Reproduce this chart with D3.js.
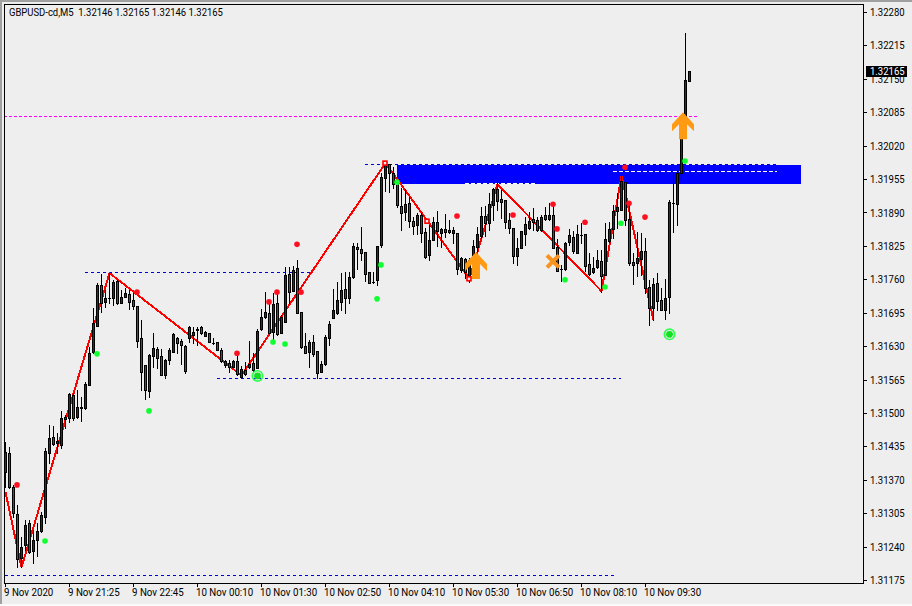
<!DOCTYPE html>
<html><head><meta charset="utf-8">
<script src="https://cdn.jsdelivr.net/npm/d3@7/dist/d3.min.js"></script>
<style>html,body{margin:0;padding:0;background:#eeeeee;overflow:hidden}svg{display:block}text{font-family:Roboto,"Noto Sans",sans-serif;font-size:11px;fill:#000;white-space:pre}</style>
</head><body><svg id="c" width="912" height="606"></svg>
<script>
const title = "GBPUSD-cd,M5  1.32146 1.32165 1.32146 1.32165";
const priceTicks = [1.32280,1.32215,1.32150,1.32085,1.32020,1.31955,1.31890,1.31825,1.31760,1.31695,1.31630,1.31565,1.31500,1.31435,1.31370,1.31305,1.31240,1.31175];
const timeLabels = ["9 Nov 2020","9 Nov 21:25","9 Nov 22:45","10 Nov 00:10","10 Nov 01:30","10 Nov 02:50","10 Nov 04:10","10 Nov 05:30","10 Nov 06:50","10 Nov 08:10","10 Nov 09:30"];
const lastPrice = 1.32165;
// OHLC in points (1e-5)
const open = [131385,131422,131356,131303,131218,131243,131286,131231,131253,131270,131297,131422,131453,131441,131437,131492,131490,131535,131492,131510,131510,131554,131618,131669,131749,131716,131724,131724,131757,131714,131726,131731,131720,131708,131646,131593,131543,131611,131624,131611,131573,131603,131618,131646,131640,131630,131646,131651,131661,131667,131649,131655,131636,131638,131622,131593,131597,131589,131601,131570,131583,131589,131597,131587,131663,131687,131694,131657,131714,131655,131677,131770,131737,131782,131696,131630,131618,131638,131620,131579,131595,131646,131685,131694,131716,131741,131724,131765,131823,131819,131813,131774,131755,131759,131827,131957,131984,131967,131947,131902,131891,131908,131873,131866,131885,131852,131807,131836,131871,131850,131858,131856,131850,131850,131778,131799,131761,131807,131823,131844,131883,131869,131904,131936,131916,131914,131875,131860,131805,131821,131848,131860,131877,131875,131856,131885,131877,131885,131823,131780,131780,131832,131842,131811,131846,131848,131790,131774,131784,131795,131768,131834,131858,131893,131895,131949,131877,131793,131791,131799,131815,131745,131704,131753,131720,131700,131726,131908,131906,131967,132044,132146];
const high = [131443,131433,131360,131321,131259,131292,131292,131272,131286,131307,131432,131477,131475,131461,131504,131496,131539,131539,131545,131531,131560,131628,131704,131753,131770,131739,131772,131759,131759,131739,131743,131739,131733,131708,131681,131593,131615,131655,131628,131624,131605,131626,131655,131648,131644,131632,131669,131667,131667,131669,131659,131655,131646,131638,131626,131603,131603,131603,131618,131591,131599,131640,131616,131663,131702,131735,131718,131733,131737,131690,131784,131784,131786,131797,131696,131655,131642,131651,131620,131601,131651,131679,131741,131755,131772,131774,131774,131830,131830,131862,131813,131774,131774,131825,131967,131982,131984,131978,131947,131938,131936,131920,131881,131889,131889,131860,131866,131881,131893,131860,131887,131875,131862,131850,131803,131801,131801,131836,131862,131900,131902,131928,131938,131947,131934,131914,131889,131860,131840,131854,131881,131891,131899,131881,131885,131900,131908,131904,131838,131788,131832,131858,131854,131866,131869,131848,131811,131803,131817,131817,131869,131871,131904,131928,131961,131949,131908,131811,131852,131850,131840,131759,131763,131772,131743,131761,131914,131969,131973,132050,132239,132165];
const low = [131356,131354,131297,131200,131200,131233,131227,131208,131222,131268,131286,131402,131437,131422,131432,131471,131482,131486,131490,131484,131508,131554,131616,131669,131696,131706,131714,131710,131712,131714,131726,131702,131702,131628,131545,131527,131531,131589,131587,131573,131568,131595,131618,131616,131595,131577,131638,131636,131632,131653,131649,131638,131634,131622,131599,131589,131579,131589,131573,131570,131573,131587,131581,131587,131661,131685,131655,131642,131651,131655,131677,131714,131737,131694,131626,131616,131589,131611,131568,131579,131593,131632,131685,131692,131700,131694,131714,131763,131780,131797,131757,131753,131753,131749,131823,131932,131930,131938,131900,131856,131875,131862,131848,131848,131832,131801,131797,131836,131825,131823,131842,131850,131830,131770,131774,131763,131755,131788,131815,131840,131844,131856,131875,131895,131879,131860,131850,131791,131788,131821,131827,131858,131856,131854,131854,131875,131875,131821,131776,131757,131778,131827,131811,131811,131830,131776,131768,131772,131782,131735,131768,131832,131840,131860,131895,131866,131788,131751,131766,131768,131733,131671,131681,131700,131700,131683,131694,131852,131866,131955,132040,132146];
const close = [131424,131356,131305,131215,131239,131282,131229,131253,131270,131301,131426,131451,131439,131445,131490,131488,131537,131490,131512,131512,131556,131616,131675,131749,131714,131724,131724,131755,131714,131726,131733,131716,131708,131640,131579,131545,131613,131626,131607,131573,131603,131622,131653,131636,131632,131581,131667,131657,131663,131655,131657,131638,131636,131622,131601,131601,131589,131601,131575,131585,131575,131595,131583,131659,131687,131696,131655,131712,131653,131687,131768,131735,131778,131694,131628,131616,131638,131615,131577,131595,131648,131673,131700,131720,131739,131724,131765,131825,131819,131811,131770,131753,131755,131825,131959,131982,131967,131945,131904,131889,131906,131873,131864,131885,131850,131803,131836,131871,131854,131858,131852,131852,131856,131780,131801,131774,131797,131825,131848,131883,131869,131906,131936,131912,131910,131871,131860,131805,131821,131854,131867,131873,131871,131856,131881,131877,131885,131821,131776,131780,131830,131846,131815,131848,131846,131786,131770,131782,131797,131766,131838,131858,131893,131900,131951,131875,131791,131788,131801,131815,131743,131704,131751,131718,131700,131724,131910,131908,131967,132044,132148,132165];
const zigBars = [0,4,26,59,95,116,123,149,154,162];
const zigPrices = [131346,131200,131772,131573,131986,131761,131945,131737,131961,131681];
const redBars = [3,33,58,66,68,73,74,113,127,137,138,145,155,156,160];
const redPrices = [131360,131735,131616,131716,131735,131828,131735,131883,131885,131906,131858,131871,131978,131908,131881];
const greenBars = [10,23,36,67,70,93,94,98,140,150,154,170];
const greenPrices = [131251,131615,131504,131638,131634,131722,131788,131949,131759,131745,131869,131990];
const ringBars = [63,166];
const ringPrices = [131572,131653];
const squareBars = [95,105.5,116];
const squarePrices = [131986,131873,131761];
const arrowBars = [117.75,169.5];
const arrowPrices = [131813,132085];
const crossBars = [137];
const crossPrices = [131795];
const levelStart = [20,53,0,90];
const levelEnd = [77,154,152.25,193];
const levelPrice = [131774,131568,131185,131984];
const whiteStart = [152,115];
const whiteEnd = [193,133];
const whitePrice = [131971,131948];
const magentaLevel = {start:-0.25,end:173,price:132077};
const zoneBars = [98,199];
const zonePrices = [131982,131945];

const pt = 1e-5;
const svg = d3.select("#c");
const x = d3.scaleLinear().domain([0,171]).range([5,689]);
const y = d3.scaleLinear().domain([1.31175,1.32280]).range([580,12]);
const yp = p => Math.round(y(p*pt));
const bars = open.map((o,i)=>({i,o,h:high[i],l:low[i],c:close[i]}));

// frame & window edges
svg.append("rect").attr("width",912).attr("height",2).attr("fill","#a0a0a0");
svg.append("rect").attr("width",2).attr("height",606).attr("fill","#a0a0a0");
svg.append("rect").attr("y",604).attr("width",912).attr("height",2).attr("fill","#fafafa");
svg.append("rect").attr("x",2).attr("y",2).attr("width",910).attr("height",602).attr("fill","#eeeeee");

const plot = svg.append("g");
// zone
plot.append("rect").attr("x",x(zoneBars[0])).attr("width",x(zoneBars[1])-x(zoneBars[0]))
  .attr("y",yp(zonePrices[0])).attr("height",yp(zonePrices[1])-yp(zonePrices[0])).attr("fill","#0000ff");
// dashed levels
const hline=(a,b,p,col,dash)=>plot.append("line").attr("x1",x(a)).attr("x2",x(b)).attr("y1",yp(p)+.5).attr("y2",yp(p)+.5)
  .attr("stroke",col).attr("stroke-width",1).attr("stroke-dasharray",dash).attr("shape-rendering","crispEdges");
levelPrice.forEach((p,k)=>hline(levelStart[k],levelEnd[k],p,"#0000d8","3 3"));
whitePrice.forEach((p,k)=>hline(whiteStart[k],whiteEnd[k],p,"#ffffff","4 2"));
hline(magentaLevel.start,magentaLevel.end,magentaLevel.price,"#ff00ff","3 2");
// zigzag
plot.append("path").attr("d",d3.line().x((d,k)=>x(zigBars[k])+.5).y(d=>y(d*pt))(zigPrices))
  .attr("fill","none").attr("stroke","#ff0000").attr("stroke-width",2).attr("shape-rendering","crispEdges");
// candles
const cg = plot.append("g").attr("shape-rendering","crispEdges");
cg.selectAll(".w").data(bars).join("rect").attr("x",d=>x(d.i)).attr("width",1)
  .attr("y",d=>yp(d.h)).attr("height",d=>yp(d.l)-yp(d.h)+1).attr("fill","#000");
cg.selectAll(".b").data(bars).join("rect").attr("x",d=>x(d.i)-1).attr("width",3)
  .attr("y",d=>yp(Math.max(d.o,d.c))).attr("height",d=>Math.abs(yp(d.o)-yp(d.c))+1).attr("fill","#000");
cg.selectAll(".f").data(bars.filter(d=>Math.abs(yp(d.o)-yp(d.c))>1)).join("rect").attr("x",d=>x(d.i)).attr("width",1)
  .attr("y",d=>yp(Math.max(d.o,d.c))+1).attr("height",d=>Math.abs(yp(d.o)-yp(d.c))-1)
  .attr("fill",d=>d.c>=d.o?"#1020d8":"#e01010");
// dots
plot.selectAll(".rd").data(redPrices).join("circle").attr("cx",(d,k)=>x(redBars[k])).attr("cy",d=>y(d*pt)).attr("r",2.8).attr("fill","#ff1020");
plot.selectAll(".gd").data(greenPrices).join("circle").attr("cx",(d,k)=>x(greenBars[k])).attr("cy",d=>y(d*pt)).attr("r",2.8).attr("fill","#10ff30");
ringPrices.forEach((p,k)=>{
  plot.append("circle").attr("cx",x(ringBars[k])+.5).attr("cy",y(p*pt)).attr("r",5.2).attr("fill","none").attr("stroke","#30ff50").attr("stroke-width",1.6);
  plot.append("circle").attr("cx",x(ringBars[k])+.5).attr("cy",y(p*pt)).attr("r",3.4).attr("fill","#10e020");
});
// open squares
plot.selectAll(".sq").data(squarePrices).join("rect").attr("x",(d,k)=>x(squareBars[k])-2).attr("y",d=>y(d*pt)-2)
  .attr("width",4).attr("height",4).attr("fill","#eeeeee").attr("stroke","#ff0000").attr("stroke-width",1.6);
// arrows
const arrowPts=[[0,0],[11,12],[11,19],[4,12],[4,27],[-4,27],[-4,12],[-11,19],[-11,12]];
arrowPrices.forEach((p,k)=>{
  plot.append("path").attr("d",d3.line()(arrowPts)+"Z").attr("transform",`translate(${x(arrowBars[k])},${y(p*pt)})`).attr("fill","#ff9a12");
});
// cross
crossPrices.forEach((p,k)=>{
  const g=plot.append("g").attr("transform",`translate(${x(crossBars[k])},${y(p*pt)})`).attr("stroke","#f7931e").attr("stroke-width",4);
  g.append("line").attr("x1",-6).attr("y1",-6).attr("x2",6).attr("y2",6);
  g.append("line").attr("x1",-6).attr("y1",6).attr("x2",6).attr("y2",-6);
});

// frame
const fr=svg.append("g").attr("shape-rendering","crispEdges");
fr.append("rect").attr("x",4.5).attr("y",4.5).attr("width",859).attr("height",578.5).attr("fill","none").attr("stroke","#000");
// y axis
const ya=svg.append("g").attr("transform","translate(864,0)").call(d3.axisRight(y).tickValues(priceTicks).tickSize(3).tickPadding(3).tickFormat(d3.format(".5f")));
ya.select(".domain").remove();
ya.selectAll(".tick line").attr("shape-rendering","crispEdges");
ya.selectAll("text").style("font-size","11px").style("font-family","Roboto,'Noto Sans',sans-serif").attr("fill","#000");
// price tag
svg.append("rect").attr("x",866).attr("y",yp(lastPrice*1e5)-5).attr("width",41).attr("height",11).attr("fill","#000");
const tag=svg.append("text").attr("x",870).attr("y",y(lastPrice)).attr("dy","0.36em").style("fill","#fff").text(d3.format(".5f")(lastPrice));
// time axis
const xa=svg.append("g").attr("transform","translate(0,583)");
xa.selectAll("line").data(timeLabels).join("line").attr("x1",(d,k)=>x(k*16)+.5).attr("x2",(d,k)=>x(k*16)+.5).attr("y1",0).attr("y2",4).attr("stroke","#000").attr("shape-rendering","crispEdges");
const tl=xa.selectAll("text").data(timeLabels).join("text").attr("x",(d,k)=>x(k*16)-1).attr("y",13).text(d=>d);
const tt=svg.append("text").attr("x",9).attr("y",16).text(title);
// fit text widths to the reference font metrics
const fit=(sel,k)=>sel.each(function(){const w=this.getComputedTextLength();d3.select(this).attr("textLength",w*k).attr("lengthAdjust","spacingAndGlyphs");});
fit(ya.selectAll("text"),33/38.1);fit(tag,33/38.1);fit(tl,.885);fit(tt,.86);
</script></body></html>
